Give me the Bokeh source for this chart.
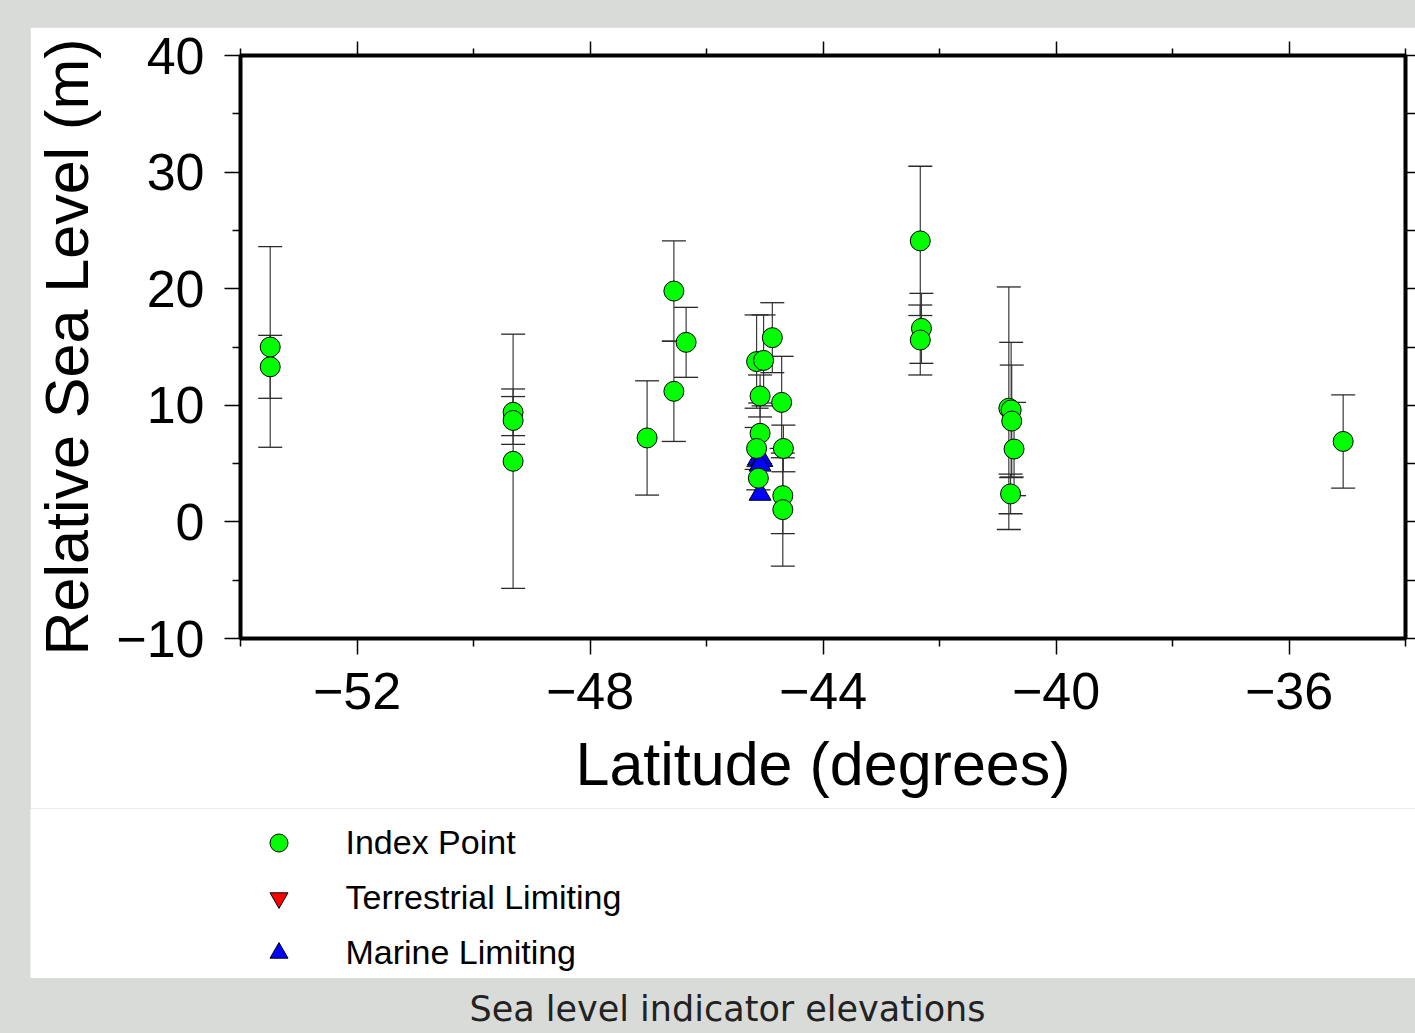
from bokeh.plotting import figure
from bokeh.models import (ColumnDataSource, FixedTicker, LinearAxis, Legend, LegendItem,
                          Range1d, Div, Spacer)
from bokeh.layouts import column, row
from bokeh.embed import file_html
from bokeh.resources import INLINE

# ---- data ----
idx_lat = [-53.49, -53.49, -49.32, -49.32, -49.32, -47.02, -46.56, -46.56, -46.35,
           -44.87, -45.14, -45.02, -45.08, -44.71, -45.08, -44.68, -45.14, -45.11,
           -44.69, -44.69, -42.33, -42.31, -42.33, -40.81, -40.77, -40.76, -40.72,
           -40.78, -35.07]
idx_rsl = [15.0, 13.3, 9.4, 8.7, 5.2, 7.2, 19.8, 11.2, 15.4,
           15.8, 13.75, 13.85, 10.8, 10.25, 7.6, 6.3, 6.3, 3.75,
           2.25, 1.05, 24.1, 16.6, 15.6, 9.75, 9.6, 8.65, 6.25,
           2.4, 6.9]
idx_err = [8.6, 2.7, 2.0, 2.05, 10.9, 4.9, 4.3, 4.3, 3.0,
           3.0, 4.0, 3.9, 1.8, 3.95, 2.6, 2.0, 1.8, 1.0,
           3.25, 4.85, 6.4, 3.0, 3.0, 10.4, 5.8, 4.8, 4.0,
           1.7, 4.0]

mar_lat = [-45.11, -45.05, -45.08, -45.08]
mar_rsl = [5.4, 5.3, 4.9, 2.4]

ter_lat = []
ter_rsl = []

x_major = [-52, -48, -44, -40, -36]
x_minor = [-54, -50, -46, -42, -38, -34]
x_labels = ["\u221252", "\u221248", "\u221244", "\u221240", "\u221236"]
y_major = [-10, 0, 10, 20, 30, 40]
y_minor = [-5, 5, 15, 25, 35]
y_labels = ["\u221210", "0", "10", "20", "30", "40"]

legend_labels = ["Index Point", "Terrestrial Limiting", "Marine Limiting"]
caption = "Sea level indicator elevations"
FONT = "Liberation Sans"
BG = "#d9dbd8"
GREEN, RED, BLUE = "#00ff00", "#ff0000", "#0000ff"

# ---- main figure ----
p = figure(width=1385, height=781, output_backend="svg", toolbar_location=None,
           x_range=Range1d(-54, -34), y_range=Range1d(-10, 40),
           x_axis_location=None, y_axis_location=None,
           min_border_left=208, min_border_right=10, min_border_top=28,
           min_border_bottom=170)
p.background_fill_color = "white"
p.border_fill_color = "white"
p.outline_line_color = "black"
p.outline_line_width = 4
p.grid.visible = False

xt = FixedTicker(ticks=x_major, minor_ticks=x_minor)
yt = FixedTicker(ticks=y_major, minor_ticks=y_minor)

def style(ax, maj_out, min_out):
    ax.axis_line_color = None
    ax.major_tick_in = 0
    ax.minor_tick_in = 0
    ax.major_tick_out = maj_out
    ax.minor_tick_out = min_out
    ax.major_tick_line_color = "black"
    ax.minor_tick_line_color = "black"
    ax.major_tick_line_width = 1.5
    ax.minor_tick_line_width = 1.5
    ax.major_label_text_font = FONT
    ax.axis_label_text_font = FONT
    ax.axis_label_text_font_style = "normal"
    ax.axis_label_text_color = "black"
    ax.major_label_text_color = "black"

bottom = LinearAxis(ticker=xt, axis_label="Latitude (degrees)",
                    major_label_overrides=dict(zip(x_major, x_labels)))
style(bottom, 16, 8)
bottom.major_label_text_font_size = "52px"
bottom.axis_label_text_font_size = "61px"
bottom.major_label_standoff = 18
bottom.axis_label_standoff = 18
p.add_layout(bottom, "below")

left = LinearAxis(ticker=yt, axis_label="Relative Sea Level (m)",
                  major_label_overrides=dict(zip(y_major, y_labels)))
style(left, 16, 8)
left.major_label_text_font_size = "52px"
left.axis_label_text_font_size = "61px"
left.major_label_standoff = 20
left.axis_label_standoff = 12
left.major_label_orientation = "horizontal"
p.add_layout(left, "left")

top = LinearAxis(ticker=xt, major_label_overrides={v: "" for v in x_major})
style(top, 14, 7)
top.major_label_standoff = 0
p.add_layout(top, "above")

right = LinearAxis(ticker=yt, major_label_overrides={v: "" for v in y_major})
style(right, 10, 10)
right.major_label_standoff = 0
p.add_layout(right, "right")

# ---- error bars ----
src = ColumnDataSource(dict(
    x=idx_lat, y=idx_rsl,
    lo=[r - e for r, e in zip(idx_rsl, idx_err)],
    hi=[r + e for r, e in zip(idx_rsl, idx_err)]))
p.segment(x0="x", y0="lo", x1="x", y1="hi", source=src, line_color="#3a3a3a",
          line_width=1.2)
p.scatter(x="x", y="lo", source=src, marker="dash", size=24, line_color="#2a2a2a",
          line_width=1.3)
p.scatter(x="x", y="hi", source=src, marker="dash", size=24, line_color="#2a2a2a",
          line_width=1.3)

# ---- points ----
p.scatter(x=mar_lat, y=mar_rsl, marker="triangle", size=22,
          fill_color=BLUE, line_color="black", line_width=1)
p.scatter(x=ter_lat, y=ter_rsl, marker="inverted_triangle", size=22,
          fill_color=RED, line_color="black", line_width=1)
p.scatter(x="x", y="y", source=src, marker="circle", size=20,
          fill_color=GREEN, line_color="black", line_width=1)

# ---- legend figure (below the main plot) ----
lg = figure(width=1385, height=170, output_backend="svg", toolbar_location=None,
            x_range=Range1d(0, 1), y_range=Range1d(0, 1),
            x_axis_location=None, y_axis_location=None,
            min_border_left=0, min_border_right=0, min_border_top=0,
            min_border_bottom=0)
lg.outline_line_color = None
lg.grid.visible = False
lg.background_fill_color = "white"
lg.border_fill_color = "white"
# legend-only swatches, placed outside the visible range so only the legend shows them
off = [-5]
l_idx = lg.scatter(x=off, y=off, marker="circle", fill_color=GREEN,
                   line_color="black", line_width=1)
l_ter = lg.scatter(x=off, y=off, marker="inverted_triangle", fill_color=RED,
                   line_color="black", line_width=1)
l_mar = lg.scatter(x=off, y=off, marker="triangle", fill_color=BLUE,
                   line_color="black", line_width=1)
legend = Legend(items=[LegendItem(label=legend_labels[0], renderers=[l_idx]),
                       LegendItem(label=legend_labels[1], renderers=[l_ter]),
                       LegendItem(label=legend_labels[2], renderers=[l_mar])],
                location=(225.5, 3.5), orientation="vertical",
                glyph_width=45, glyph_height=45, label_height=45,
                label_standoff=45, spacing=10, padding=0, margin=0,
                border_line_color=None, background_fill_alpha=0,
                label_text_font=FONT, label_text_font_size="34px",
                label_text_color="black")
lg.add_layout(legend, "center")

cap = Div(text=caption, width=1385, height=55,
          styles={"text-align": "center", "font-size": "35px",
                  "font-family": "DejaVu Sans", "line-height": "52px",
                  "color": "#222222"})

layout = column(Spacer(width=1415, height=27),
                row(Spacer(width=30, height=781), p),
                row(Spacer(width=30, height=170), lg),
                row(Spacer(width=30, height=55), cap),
                styles={"background-color": BG}, spacing=0)

open("out.html", "w").write(file_html(layout, INLINE))
